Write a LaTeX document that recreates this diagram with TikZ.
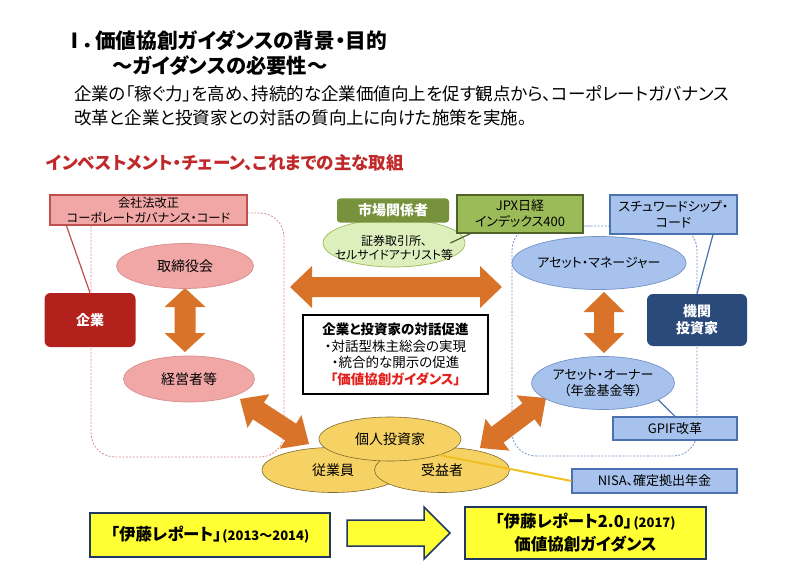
\documentclass[tikz,border=0pt]{standalone}
\usepackage{fontspec}
\setmainfont{Noto Sans CJK JP}[RawFeature=+palt]
\usetikzlibrary{calc,shapes.geometric}
\definecolor{pinkF}{HTML}{F2A7A7}
\definecolor{pinkB}{HTML}{C0504D}
\definecolor{pinkE}{HTML}{D98E8E}
\definecolor{corpR}{HTML}{B3211C}
\definecolor{orgA}{HTML}{D9732A}
\definecolor{grnD}{HTML}{76923C}
\definecolor{grnL}{HTML}{DCEFBC}
\definecolor{grnM}{HTML}{9BBB59}
\definecolor{grnB}{HTML}{4F6228}
\definecolor{bluL}{HTML}{A7C2EC}
\definecolor{bluB}{HTML}{4A72B0}
\definecolor{bluE}{HTML}{7393C7}
\definecolor{bluD}{HTML}{2B4A7C}
\definecolor{yelE}{HTML}{F6D264}
\definecolor{yelD}{HTML}{7F6A2A}
\definecolor{yelL}{HTML}{F0C020}
\definecolor{yelB}{HTML}{FFFF33}
\definecolor{navy}{HTML}{1F3864}
\definecolor{redT}{HTML}{C0282A}
\definecolor{redB}{HTML}{E3201B}
\newcommand{\dblarrow}[5]{($(#1)$) -- ($(#1)!#5!(#2)!#4!90:(#2)$) -- ($(#1)!#5!(#2)!#3!90:(#2)$) -- ($(#2)!#5!(#1)!#3!-90:(#1)$) -- ($(#2)!#5!(#1)!#4!-90:(#1)$) -- ($(#2)$) -- ($(#2)!#5!(#1)!#4!90:(#1)$) -- ($(#2)!#5!(#1)!#3!90:(#1)$) -- ($(#1)!#5!(#2)!#3!-90:(#2)$) -- ($(#1)!#5!(#2)!#4!-90:(#2)$) -- cycle}
\tikzset{
  fs/.style 2 args={font=\fontsize{#1}{#2}\selectfont},
  pinkell/.style={ellipse, fill=pinkF, draw=pinkE, line width=0.7, inner sep=0pt, fs={14}{17}},
  blueell/.style={ellipse, fill=bluL, draw=bluE, line width=0.7, inner sep=0pt, fs={13}{16}, align=center},
  yelell/.style={ellipse, fill=yelE, draw=yelD, line width=0.6, inner sep=0pt, fs={14}{17}},
  bluebox/.style={rectangle, fill=bluL, draw=bluB, line width=1.2, inner sep=0pt, fs={13}{16}, align=center},
  darkbox/.style={rectangle, rounded corners=6, text=white, inner sep=0pt, align=center, font=\fontsize{14}{17}\selectfont\bfseries},
  yelbox/.style={rectangle, fill=yelB, draw=navy, line width=1.5, inner sep=0pt, align=center, font=\fontsize{16.5}{23}\selectfont\bfseries},
  orarrow/.style={fill=orgA},
  dashpink/.style={draw=pinkE, line width=0.8, dash pattern=on 2pt off 1.5pt},
  dashblue/.style={draw=bluE, line width=0.8, dash pattern=on 2pt off 1.5pt},
}
\begin{document}
\begin{tikzpicture}[x=1pt,y=-1pt]
\useasboundingbox[fill=white] (0,0) rectangle (800,580);

% headings
\node[anchor=west, inner sep=0pt, font=\fontsize{20.7}{24}\selectfont\bfseries] (title) at (64,40) {Ⅰ．価値協創ガイダンスの背景・目的};
\node[anchor=west, inner sep=0pt, font=\fontsize{20.3}{24}\selectfont\bfseries] (sub) at (112,66) {～ガイダンスの必要性～};
\node[anchor=west, inner sep=0pt, fs={17.5}{20}] (body1) at (74,94) {企業の「稼ぐ力」を高め、持続的な企業価値向上を促す観点から、コーポレートガバナンス};
\node[anchor=west, inner sep=0pt, fs={17.5}{20}] (body2) at (74,118) {改革と企業と投資家との対話の質向上に向けた施策を実施。};
\node[anchor=west, inner sep=0pt, text=redT, font=\fontsize{17.5}{20}\selectfont\bfseries] (chain) at (46,163) {インベストメント・チェーン、これまでの主な取組};

% dashed groups
\draw[dashpink, rounded corners=24] (240,213) -- (284,213) -- (284,457) -- (91,457) -- (91,220);
\draw[dashblue, rounded corners=24] (580,226) -- (697,226) -- (697,456) -- (512,456) -- (512,226) -- (590,226);

% coordinates for block arrows
\coordinate (la1) at (185,288);
\coordinate (la2) at (185,352);
\coordinate (ra1) at (604,292);
\coordinate (ra2) at (604,353);
\coordinate (ha1) at (290,287);
\coordinate (ha2) at (502,287);
\coordinate (da1) at (240,399);
\coordinate (da2) at (309,444);
\coordinate (db1) at (480,448);
\coordinate (db2) at (546,398);
\fill[orarrow] \dblarrow{la1}{la2}{10.5pt}{20.5pt}{19pt};
\fill[orarrow] \dblarrow{ra1}{ra2}{10pt}{20.5pt}{20pt};
\fill[orarrow] \dblarrow{ha1}{ha2}{10pt}{21pt}{22pt};
\fill[orarrow] \dblarrow{da1}{da2}{10pt}{20pt}{22pt};
\fill[orarrow] \dblarrow{db1}{db2}{10pt}{20pt}{22pt};

% left side (companies)
\node[rectangle, fill=pinkF, draw=pinkB, line width=1.2, minimum width=197, minimum height=30, inner sep=0pt, align=center, font=\fontsize{12.2}{15}\selectfont] (cg) at (148.5,210) {会社法改正\\コーポレートガバナンス・コード};
\node[darkbox, fill=corpR, minimum width=91, minimum height=54] (kigyo) at (90,320) {企業};
\draw[pinkB, line width=1.2] ([xshift=17pt]cg.south west) -- (kigyo.north);
\node[pinkell, minimum width=137, minimum height=45] (board) at (185,266) {取締役会};
\node[pinkell, minimum width=131, minimum height=46] (mgmt) at (189,379) {経営者等};

% market participants
\node[ellipse, fill=grnL, draw=grnM, line width=0.7, minimum width=142, minimum height=48, inner sep=0pt] (mkt) at (394,243) {};
\node[inner sep=0pt, align=center, font=\fontsize{12}{13.5}\selectfont] (mkttxt) at (394,248) {証券取引所、\\セルサイドアナリスト等};
\node[rectangle, rounded corners=3, fill=grnD, text=white, minimum width=112, minimum height=24, inner sep=0pt, font=\fontsize{14}{17}\selectfont\bfseries] (mktbox) at (393,210.5) {市場関係者};
\node[rectangle, fill=grnM, draw=grnB, line width=1.2, minimum width=126, minimum height=38, inner sep=0pt, align=center, font=\fontsize{13}{16}\selectfont] (jpx) at (520,214) {JPX日経\\インデックス400};
\draw[grnB, line width=1.2] ([xshift=-15pt]mkt.east) -- ([xshift=14pt]jpx.south west);

% dialogue box
\node[rectangle, draw=black, line width=2, fill=white, minimum width=185, minimum height=79, inner sep=0pt, align=center, font=\fontsize{13.5}{16.5}\selectfont] (dialog) at (395.5,354.5) {{\bfseries 企業と投資家の対話促進}\\・対話型株主総会の実現\\・統合的な開示の促進\\{\bfseries\color{redB}「価値協創ガイダンス」}};

% right side (investors)
\node[bluebox, minimum width=127, minimum height=39] (sw) at (673.5,214.5) {スチュワードシップ・\\コード};
\node[darkbox, fill=bluD, minimum width=100, minimum height=52] (kikan) at (697,320) {機関\\投資家};
\draw[bluB, line width=1.2] ([xshift=39.5pt]sw.south) -- (kikan.north);
\node[blueell, minimum width=150, minimum height=53] (am) at (599,263) {アセット・マネージャー};
\node[blueell, minimum width=141, minimum height=53] (ao) at (603,383) {アセット・オーナー\\（年金基金等）};
\node[bluebox, minimum width=124, minimum height=23] (gpif) at (675,428.5) {GPIF改革};
\draw[bluB, line width=1.2] (ao.-17) -- (gpif.north);
\node[bluebox, minimum width=165, minimum height=24] (nisa) at (654.5,481) {NISA、確定拠出年金};

% individuals
\node[yelell, minimum width=142, minimum height=45] (emp) at (333,470) {従業員};
\node[yelell, minimum width=135, minimum height=45] (ben) at (442,470) {受益者};
\node[yelell, minimum width=142, minimum height=44] (ind) at (390,439) {個人投資家};
\draw[yelL, line width=2] (ind.-18) -- (nisa.west);

% bottom
\node[yelbox, minimum width=240, minimum height=44] (ito1) at (210,535) {「伊藤レポート」\kern1pt{\fontsize{13}{16}\selectfont (2013～2014)}};
\node[yelbox, minimum width=241, minimum height=52] (ito2) at (585.5,533) {「伊藤レポート2.0」\kern1.5pt{\fontsize{13}{16}\selectfont (2017)}\\価値協創ガイダンス};
\draw[fill=yelB, draw=navy, line width=1.5] (347,520) -- (424,520) -- (424,507) -- (450,533) -- (424,559) -- (424,546) -- (347,546) -- cycle;
\end{tikzpicture}
\end{document}
